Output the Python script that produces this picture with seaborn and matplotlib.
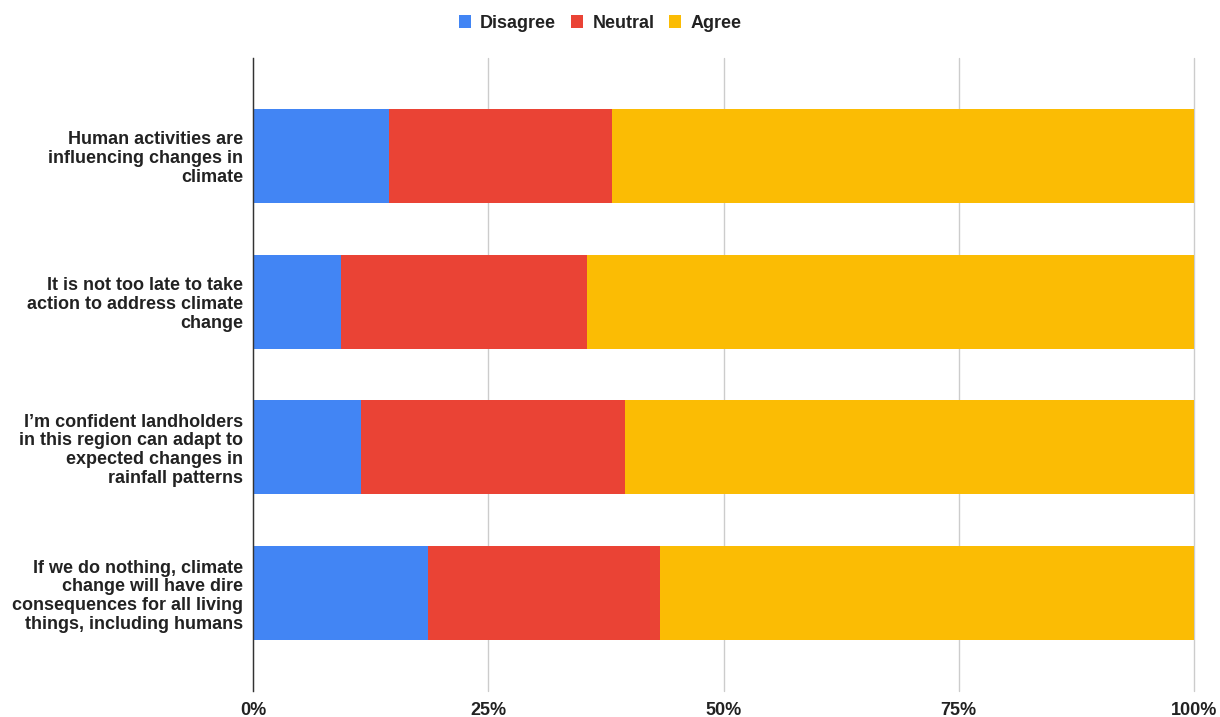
import matplotlib
matplotlib.use("Agg")
import matplotlib.pyplot as plt
from matplotlib.patches import Patch
import seaborn as sns
import pandas as pd
import numpy as np

statements = [
    "Human activities are\ninfluencing changes in\nclimate",
    "It is not too late to take\naction to address climate\nchange",
    "I\u2019m confident landholders\nin this region can adapt to\nexpected changes in\nrainfall patterns",
    "If we do nothing, climate\nchange will have dire\nconsequences for all living\nthings, including humans",
]
disagree = [14.5, 9.35, 11.5, 18.6]
neutral = [23.6, 26.15, 28.05, 24.7]
agree = [61.9, 64.5, 60.45, 56.7]
series_names = ["Disagree", "Neutral", "Agree"]
colors = ["#4285F4", "#EA4335", "#FBBC04"]
x_ticks = [0, 25, 50, 75, 100]
x_tick_labels = ["0%", "25%", "50%", "75%", "100%"]

sns.set_theme(style="white")
plt.rcParams["font.family"] = ["Liberation Sans", "DejaVu Sans"]

df = pd.DataFrame({
    "statement": statements,
    "Disagree": disagree,
    "Neutral": neutral,
    "Agree": agree,
})
df["cum_d"] = df["Disagree"]
df["cum_n"] = df["Disagree"] + df["Neutral"]
df["cum_a"] = df["Disagree"] + df["Neutral"] + df["Agree"]

fig = plt.figure(figsize=(12.2, 7.17), dpi=100)
ax = fig.add_axes([253 / 1220, 1 - 691 / 717, (1194 - 253) / 1220, 633 / 717])

width = 94 / 146
for col, c in zip(["cum_a", "cum_n", "cum_d"], [colors[2], colors[1], colors[0]]):
    sns.barplot(data=df, y="statement", x=col, orient="h", color=c,
                width=width, ax=ax, saturation=1, linewidth=0, zorder=3)

ax.set_xlim(0, 100)
ax.set_ylim(3.5 + 0.168, -0.5 - 0.168)
ax.set_xticks(x_ticks)
ax.set_xticklabels(x_tick_labels, fontsize=13, fontweight="bold", color="#222222")
ax.tick_params(axis="x", length=0, pad=8)
ax.tick_params(axis="y", length=0, pad=7)
for lbl in ax.get_yticklabels():
    lbl.set_fontsize(13)
    lbl.set_fontweight("bold")
    lbl.set_color("#222222")
    lbl.set_linespacing(1.15)
ax.set_xlabel("")
ax.set_ylabel("")
for s in ["top", "right", "bottom"]:
    ax.spines[s].set_visible(False)
ax.spines["left"].set_color("#333333")
ax.spines["left"].set_linewidth(1.0)
ax.spines["left"].set_zorder(5)
ax.grid(axis="x", color="#cccccc", linewidth=1, zorder=0)
for gl in ax.get_xgridlines():
    gl.set_clip_on(False)
ax.set_axisbelow(True)

handles = [Patch(facecolor=c, edgecolor="none", label=n) for n, c in zip(series_names, colors)]
leg = fig.legend(handles=handles, loc="center", bbox_to_anchor=(600 / 1220, 1 - 23 / 717),
                 ncol=3, frameon=False, handlelength=0.7, handleheight=0.7,
                 handletextpad=0.5, columnspacing=0.8,
                 prop={"size": 13, "weight": "bold"})
for t in leg.get_texts():
    t.set_color("#222222")

fig.savefig("out.png", dpi=100)
